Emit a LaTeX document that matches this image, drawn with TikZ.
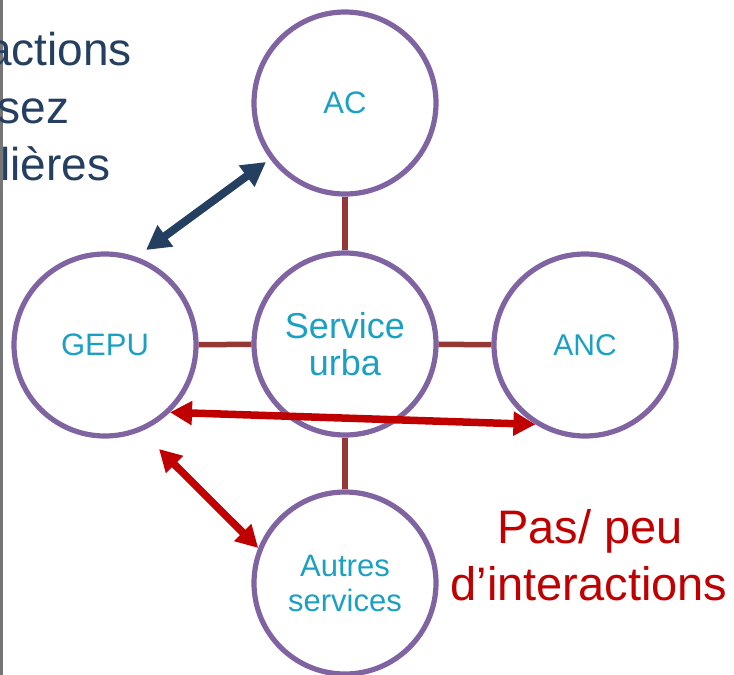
\documentclass[tikz,border=0pt]{standalone}
\usepackage{fontspec}
\setmainfont{Liberation Sans}
\usetikzlibrary{arrows.meta,calc}
\definecolor{circpurple}{HTML}{8064A2}
\definecolor{linkbrown}{HTML}{953735}
\definecolor{txtcyan}{HTML}{1BA0C4}
\definecolor{navy}{HTML}{243F60}
\definecolor{redarr}{HTML}{C00000}
\definecolor{edgegray}{HTML}{767676}
\begin{document}
\begin{tikzpicture}[x=1pt,y=1pt,
  unit/.style={circle,draw=circpurple,line width=5.2pt,minimum size=182pt,inner sep=0pt,align=center,text=txtcyan},
  link/.style={draw=linkbrown,line width=5.5pt},
  bluearr/.style={draw=navy,line width=8pt,{Triangle[length=24pt,width=25pt]}-{Triangle[length=24pt,width=25pt]}},
  redarrow/.style={draw=redarr,line width=7.5pt,{Triangle[length=22pt,width=23pt]}-{Triangle[length=22pt,width=23pt]}},
  bigtxt/.style={inner sep=0pt,font=\fontsize{46}{57}\selectfont},
  redtxt/.style={inner sep=0pt,font=\fontsize{47}{57}\selectfont}
]
\useasboundingbox (0,0) rectangle (734,-675);
\fill[edgegray] (0,0) rectangle (2.5,-675);

% left partial text (cut off by the left edge, as in the reference)
\node[bigtxt,text=navy,anchor=base west] (t1) at (-14,-65) {actions};
\node[bigtxt,text=navy,anchor=base west] (t2) at (-2.5,-123) {sez};
\node[bigtxt,text=navy,anchor=base west] (t3) at (0,-180) {lières};

% circles
\node[unit,font=\fontsize{31}{35}\selectfont] (ac) at (345,-103) {AC};
\node[unit,font=\fontsize{36}{37}\selectfont] (srv) at (345,-344) {Service\\urba};
\node[unit,font=\fontsize{31}{35}\selectfont] (gepu) at (105,-345) {GEPU};
\node[unit,font=\fontsize{30}{35}\selectfont] (anc) at (585,-345) {ANC};
\node[unit,font=\fontsize{31}{35}\selectfont] (autres) at (345,-583) {Autres\\services};

% connectors
\draw[link] (ac) -- (srv);
\draw[link] (srv) -- (autres);
\draw[link] (gepu) -- (srv);
\draw[link] (srv) -- (anc);

% arrows
\coordinate (bA) at (146,-250);
\coordinate (bB) at (266,-162);
\draw[bluearr] (bA) -- (bB);

\draw[redarrow] (gepu.-46) -- (anc.238.7);
\coordinate (rA) at (159,-449);
\draw[redarrow] (rA) -- (autres.158);

% red text
\node[redtxt,text=redarr,anchor=base] (p1) at (590,-543) {Pas/ peu};
\node[redtxt,text=redarr,anchor=base] (p2) at (589,-600) {d’interactions};
\end{tikzpicture}
\end{document}
